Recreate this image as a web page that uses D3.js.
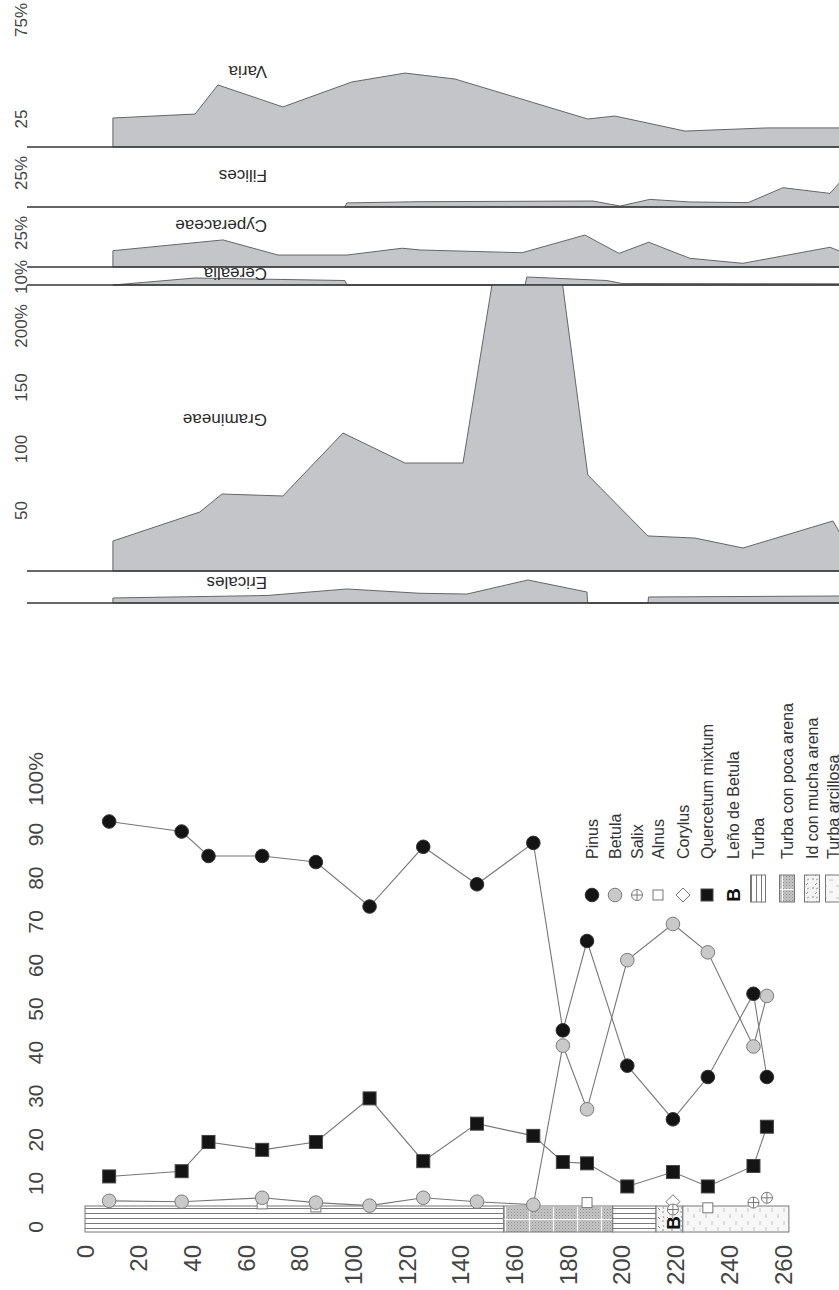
<!DOCTYPE html>
<html><head><meta charset="utf-8">
<script src="https://cdn.jsdelivr.net/npm/d3@7"></script>
<style>body{margin:0;background:#fff} svg{display:block} text{font-family:"Liberation Sans",Arial,sans-serif}</style>
</head><body><svg id="c" width="839" height="1290"></svg>
<script>
// ================= DATA =================
// --- lower diagram (pollen curves vs depth) ---
const depths    = [9,36,46,66,86,106,126,146,167,178,187,202,219,232,249,254];
const pinus     = [93,90.7,85.1,85.1,83.7,73.5,87.2,78.6,88.1,45.1,65.6,37,24.7,34.4,53.5,34.4];
const betula    = [6,5.8,null,6.7,5.6,4.9,6.7,5.8,5.1,41.6,27,61.2,69.5,63,41.4,53];
const quercetum = [11.6,12.8,19.5,17.7,19.5,29.5,15.1,23.7,20.9,14.9,14.6,9.3,12.6,9.3,14,23];
const alnus     = [null,null,null,5.3,4.6,null,null,null,null,null,5.6,null,null,4.4,null,null];
const salix     = [null,null,null,null,null,null,null,null,null,null,null,null,4,null,5.6,6.7];
const corylus   = [null,null,null,null,null,null,null,null,null,null,null,null,5.8,null,null,null];
const lenoBetulaDepth = [219];
const depthTicks = [0,20,40,60,80,100,120,140,160,180,200,220,240,260];
const pctTicks   = [0,10,20,30,40,50,60,70,80,90,100];
// stratigraphic column (depth intervals)
const strataFrom = [0,156,196.6,212.7,222.7];
const strataTo   = [156,196.6,212.7,222.7,262.2];
const strataType = ["turba","poca","turba","mucha","arcillosa"];
const legendLabels = ["Pinus","Betula","Salix","Alnus","Corylus","Quercetum mixtum","Leño de Betula","Turba","Turba con poca arena","Id con mucha arena","Turba arcillosa"];

// --- upper panels (area curves vs depth) ---
const panelNames = ["Varia","Filices","Cyperaceae","Cerealia","Gramineae","Ericales"];
const variaDepth = [10.4,41,49.5,73.7,99.4,119.2,137.8,187.3,197.4,223.5,254,282];
const variaVal   = [25.5,27.5,42.2,31.1,43.7,48.2,45.2,25,26.5,18.9,20.5,20.5];
const filicesDepth = [96.8,97.5,124.8,189.2,199.3,210.4,225.3,247,260,277.5,282];
const filicesVal   = [0,3,3.9,4.4,0.7,5.6,3.7,3.2,14.2,10,20];
const cyperDepth = [10.4,51.4,71.9,97.6,118.1,125,162.8,186.2,198.9,210,225.3,245,277.5,282];
const cyperVal   = [12,19.9,8.8,8.8,13.8,12.5,10.5,23.5,10,18.2,6.4,2.7,14.5,11];
const cerealDepth = [10.4,41,96.8,97.6,163.9,164.6,194.4,200,282];
const cerealVal   = [0,8.75,5.6,0,0,10,5.6,1.9,1.5];
const gramDepth = [10.4,42.8,51,73.7,96.1,119.2,140.8,166.1,187.3,209.7,227.2,245.1,278.6,283];
const gramVal   = [25.2,48.8,63.4,61.8,113,88.6,88.6,428,78.9,29.3,27.6,19.5,41.5,25];
const ericDepth = [10.4,67.8,97.6,124.8,142.3,165,187,187.2,209.7,209.9,282];
const ericVal   = [4.1,6.1,11.4,7.9,7.3,18.7,8.9,0,0,4.9,5.7];
const variaTicks = [25,75], filicesTicks=[25], cyperTicks=[25], cerealTicks=[10], gramTicks=[50,100,150,200], ericTicks=[];

// ================= DRAW =================
const svg = d3.select('#c');
svg.append('rect').attr('width',839).attr('height',1290).attr('fill','#fff');
const defs = svg.append('defs');

// depth scale shared by both diagrams
const x = d3.scaleLinear().domain([0,260]).range([85,783]);

// ---------- upper panels ----------
const panels = [
  {name:panelNames[0], dep:variaDepth,   val:variaVal,   ticks:variaTicks,   base:147, y:d3.scaleLinear().domain([0,75]).range([168.5,20]),  labY:72},
  {name:panelNames[1], dep:filicesDepth, val:filicesVal, ticks:filicesTicks, base:207, y:d3.scaleLinear().domain([0,25]).range([207,173]),   labY:176},
  {name:panelNames[2], dep:cyperDepth,   val:cyperVal,   ticks:cyperTicks,   base:267, y:d3.scaleLinear().domain([0,25]).range([267,233]),   labY:226},
  {name:panelNames[3], dep:cerealDepth,  val:cerealVal,  ticks:cerealTicks,  base:285, y:d3.scaleLinear().domain([0,10]).range([285,277]),   labY:274},
  {name:panelNames[4], dep:gramDepth,    val:gramVal,    ticks:gramTicks,    base:571, y:d3.scaleLinear().domain([0,200]).range([572,326]),  labY:420, clipTop:285},
  {name:panelNames[5], dep:ericDepth,    val:ericVal,    ticks:ericTicks,    base:603, y:d3.scaleLinear().domain([0,20]).range([603,578.4]), labY:583}
];
defs.append('clipPath').attr('id','clipGram').append('rect').attr('x',0).attr('y',285).attr('width',839).attr('height',290);

const gTop = svg.append('g');
panels.forEach(p=>{
  const pts = p.dep.map((d,i)=>({d, v:p.val[i]}));
  const area = d3.area().x(d=>x(d.d)).y0(p.base).y1(d=>p.y(d.v));
  const path = gTop.append('path').attr('d',area(pts))
    .attr('fill','#c3c5c8').attr('stroke','#666').attr('stroke-width',1);
  if(p.clipTop) path.attr('clip-path','url(#clipGram)');
});
panels.forEach(p=>{
  gTop.append('line').attr('x1',27).attr('x2',839).attr('y1',p.base).attr('y2',p.base)
    .attr('stroke','#333').attr('stroke-width',1.3);
  // upside-down panel name
  gTop.append('text').attr('transform',`translate(267,${p.labY-6}) rotate(180)`)
    .attr('text-anchor','start').attr('font-size',17).attr('fill','#2a2a2a').text(p.name);
  // rotated tick labels
  p.ticks.forEach((t,i)=>{
    const last = i===p.ticks.length-1;
    gTop.append('text').attr('transform',`translate(27,${p.y(t)}) rotate(-90)`)
      .attr('text-anchor','middle').attr('font-size',17).attr('fill','#444')
      .text(last ? t+'%' : t);
  });
});

// ---------- lower diagram ----------
const y = d3.scaleLinear().domain([0,100]).range([1227,791]);
const gB = svg.append('g');

// patterns
function makePatterns(suffix, rot){
  const tr = rot ? 'rotate(90)' : null;
  const stip = defs.append('pattern').attr('id','stip'+suffix).attr('patternUnits','userSpaceOnUse')
    .attr('width',3).attr('height',3).attr('patternTransform',tr);
  stip.append('rect').attr('width',3).attr('height',3).attr('fill','#c6c6c6');
  stip.append('rect').attr('x',0).attr('y',0).attr('width',1).attr('height',1).attr('fill','#8a8a8a');
  stip.append('rect').attr('x',1.5).attr('y',1.5).attr('width',1).attr('height',1).attr('fill','#a0a0a0');

  const turba = defs.append('pattern').attr('id','turba'+suffix).attr('patternUnits','userSpaceOnUse')
    .attr('width',10).attr('height',5).attr('y',1206).attr('patternTransform',tr);
  turba.append('rect').attr('width',10).attr('height',5).attr('fill','#fff');
  turba.append('line').attr('x1',0).attr('x2',10).attr('y1',2.5).attr('y2',2.5).attr('stroke','#7a7a7a').attr('stroke-width',1);

  const poca = defs.append('pattern').attr('id','poca'+suffix).attr('patternUnits','userSpaceOnUse')
    .attr('width',24).attr('height',13).attr('x',505).attr('y',1206).attr('patternTransform',tr);
  poca.append('rect').attr('width',24).attr('height',13).attr('fill','url(#stip'+suffix+')');
  poca.append('line').attr('x1',0).attr('x2',24).attr('y1',0).attr('y2',0).attr('stroke','#fff').attr('stroke-width',2);
  poca.append('line').attr('x1',0).attr('x2',0).attr('y1',0).attr('y2',13).attr('stroke','#fff').attr('stroke-width',2);

  const mucha = defs.append('pattern').attr('id','mucha'+suffix).attr('patternUnits','userSpaceOnUse')
    .attr('width',9).attr('height',9).attr('patternTransform',tr);
  mucha.append('rect').attr('width',9).attr('height',9).attr('fill','#f4f4f4');
  mucha.append('line').attr('x1',1).attr('x2',3).attr('y1',2).attr('y2',4).attr('stroke','#777').attr('stroke-width',0.8);
  mucha.append('circle').attr('cx',6).attr('cy',6).attr('r',0.7).attr('fill','#666');
  mucha.append('line').attr('x1',6).attr('x2',7).attr('y1',1).attr('y2',3).attr('stroke','#888').attr('stroke-width',0.8);

  const arc = defs.append('pattern').attr('id','arc'+suffix).attr('patternUnits','userSpaceOnUse')
    .attr('width',12).attr('height',13).attr('y',1206).attr('patternTransform',tr);
  arc.append('rect').attr('width',12).attr('height',13).attr('fill','#f7f7f7');
  arc.append('line').attr('x1',4).attr('x2',4).attr('y1',2).attr('y2',6).attr('stroke','#b5b5b5').attr('stroke-width',0.8);
  arc.append('line').attr('x1',10).attr('x2',10).attr('y1',8).attr('y2',12).attr('stroke','#b5b5b5').attr('stroke-width',0.8);
}
makePatterns('', false);
makePatterns('L', true);
const patId = {turba:'turba', poca:'poca', mucha:'mucha', arcillosa:'arc'};

// stratigraphic column
strataType.forEach((t,i)=>{
  gB.append('rect').attr('x',x(strataFrom[i])).attr('y',1206)
    .attr('width',x(strataTo[i])-x(strataFrom[i])).attr('height',26)
    .attr('fill',`url(#${patId[t]})`).attr('stroke','#777').attr('stroke-width',1);
});

// axis labels
depthTicks.forEach(t=>{
  gB.append('text').attr('transform',`translate(${x(t)+8.5},1245) rotate(-90)`)
    .attr('text-anchor','end').attr('font-size',24).attr('fill','#444').text(t);
});
pctTicks.forEach(t=>{
  const g = gB.append('text').attr('transform',`translate(42.5,${y(t)}) rotate(-90)`)
    .attr('text-anchor','middle').attr('font-size',21).attr('fill','#444');
  if(t===100){ g.attr('dx',12).text(t+'%'); } else g.text(t);
});

// curves
function series(vals){ return depths.map((d,i)=>({d,v:vals[i]})).filter(p=>p.v!=null); }
const line = d3.line().x(p=>x(p.d)).y(p=>y(p.v));
[pinus,betula,quercetum].forEach(s=>{
  gB.append('path').attr('d',line(series(s))).attr('fill','none').attr('stroke','#777').attr('stroke-width',1.1);
});

// marker drawers
function circle(g,cx,cy,fill,stroke){ g.append('circle').attr('cx',cx).attr('cy',cy).attr('r',6.8).attr('fill',fill).attr('stroke',stroke).attr('stroke-width',1); }
function sq(g,cx,cy,s,fill,stroke){ g.append('rect').attr('x',cx-s/2).attr('y',cy-s/2).attr('width',s).attr('height',s).attr('fill',fill).attr('stroke',stroke).attr('stroke-width',1); }
function salixM(g,cx,cy){ g.append('circle').attr('cx',cx).attr('cy',cy).attr('r',5.5).attr('fill','#fff').attr('stroke','#777').attr('stroke-width',1);
  g.append('path').attr('d',`M${cx-5.5},${cy}H${cx+5.5}M${cx},${cy-5.5}V${cy+5.5}`).attr('stroke','#777').attr('stroke-width',1); }
function diamond(g,cx,cy){ g.append('path').attr('d',`M${cx},${cy-7}L${cx+7},${cy}L${cx},${cy+7}L${cx-7},${cy}Z`).attr('fill','#fff').attr('stroke','#777').attr('stroke-width',1); }
function bMark(g,cx,cy,size){ g.append('text').attr('transform',`translate(${cx+size*0.36},${cy}) rotate(-90)`)
  .attr('text-anchor','middle').attr('font-size',size).attr('font-weight','bold').attr('fill','#111').text('B'); }

series(alnus).forEach(p=>sq(gB,x(p.d),y(p.v),10,'#fff','#777'));
series(corylus).forEach(p=>diamond(gB,x(p.d),y(p.v)));
series(salix).forEach(p=>salixM(gB,x(p.d),y(p.v)));
series(pinus).forEach(p=>circle(gB,x(p.d),y(p.v),'#141414','#333'));
series(betula).forEach(p=>circle(gB,x(p.d),y(p.v),'#c9c9c9','#7a7a7a'));
series(quercetum).forEach(p=>sq(gB,x(p.d),y(p.v),13,'#141414','#444'));
lenoBetulaDepth.forEach(d=>bMark(gB,x(d),1223,19));

// legend
const legX = [592,615,637,658,683,707,733,758,787,812,833];
const gL = svg.append('g');
const legY = 895;
circle(gL,legX[0],legY,'#141414','#333');
circle(gL,legX[1],legY,'#c9c9c9','#7a7a7a');
salixM(gL,legX[2],legY);
sq(gL,legX[3],legY,10,'#fff','#777');
diamond(gL,legX[4],legY);
sq(gL,legX[5],legY,12,'#141414','#444');
bMark(gL,legX[6],legY,19);
['turbaL','pocaL','muchaL','arcL'].forEach((pid,k)=>{
  gL.append('rect').attr('x',legX[7+k]-7.5).attr('y',875).attr('width',15).attr('height',27)
    .attr('fill',`url(#${pid})`).attr('stroke','#777').attr('stroke-width',1);
});
legendLabels.forEach((t,i)=>{
  gL.append('text').attr('transform',`translate(${legX[i]+5.8},859) rotate(-90)`)
    .attr('text-anchor','start').attr('font-size',16).attr('fill','#333').text(t);
});
</script></body></html>
